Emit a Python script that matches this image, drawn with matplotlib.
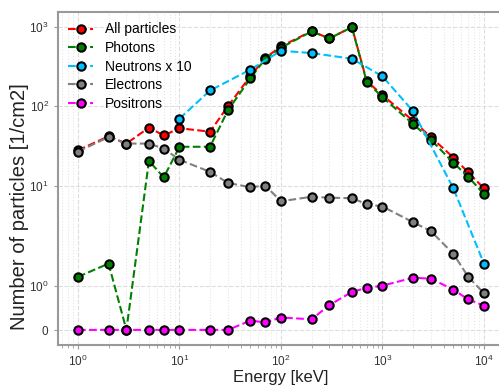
import numpy as np
import matplotlib
matplotlib.use('Agg')
import matplotlib.pyplot as plt
from matplotlib.ticker import NullLocator

plt.rcParams['font.family'] = ['Liberation Sans', 'DejaVu Sans']

energy = [1, 2, 3, 5, 7, 10, 20, 30, 50, 70, 100, 200, 300, 500, 700, 1000, 2000, 3000, 5000, 7000, 10000]

all_particles = [28, 42, 34, 54, 43, 53, 48, 100, 240, 405, 565, 880, 712, 990, 208, 138, 66, 41, 22.7, 14.8, 9.3]
photons = [1.2, 1.5, 0, 20.6, 12.8, 31, 31, 89, 225, 395, 545, 871, 712, 986, 203, 130, 60, 38, 19.5, 13.0, 7.9]
electrons = [27, 41, 34, 34, 29.4, 21.3, 15.0, 10.9, 9.6, 10.1, 6.4, 7.3, 7.1, 7.0, 5.9, 5.5, 3.5, 2.7, 1.72, 1.2, 0.83]
positrons = [0, 0, 0, 0, 0, 0, 0, 0, 0.21, 0.17, 0.28, 0.24, 0.56, 0.86, 0.95, 1.0, 1.18, 1.16, 0.91, 0.69, 0.55]

neutron_energy = [10, 20, 50, 100, 200, 500, 1000, 2000, 5000, 10000]
neutrons_x10 = [70, 158, 289, 499, 467, 396, 238, 87, 9.3, 1.5]

fig = plt.figure(figsize=(4.99, 3.88), dpi=100)
ax = fig.add_axes([0.1162, 0.111, 0.894, 0.858])

style = dict(linestyle='--', linewidth=1.5, marker='o', markersize=6,
             markeredgecolor='black', markeredgewidth=1.5)
ax.plot(energy, all_particles, color='red', label='All particles', **style)
ax.plot(energy, photons, color='green', label='Photons', **style)
ax.plot(neutron_energy, neutrons_x10, color='deepskyblue', label='Neutrons x 10', **style)
ax.plot(energy, electrons, color='gray', label='Electrons', **style)
ax.plot(energy, positrons, color='magenta', label='Positrons', **style)

ax.set_xscale('log')
ax.set_yscale('symlog', linthresh=2)
ax.set_yticks([0, 1, 10, 100, 1000])
ax.yaxis.set_minor_locator(NullLocator())
ax.set_xlim(0.635, 15800)
ax.set_ylim(-0.34, 1530)

ax.grid(True, which='major', color='#dddddd', linestyle='--', linewidth=0.8)
ax.grid(True, which='minor', axis='x', color='#e6e6e6', linestyle=':', linewidth=0.8)
ax.set_axisbelow(True)

for s in ax.spines.values():
    s.set_color('#999999')
    s.set_linewidth(1.5)
ax.tick_params(which='both', colors='#999999', labelcolor='#333333', labelsize=8.5)
ax.tick_params(which='major', length=3)
ax.tick_params(which='minor', length=2)

ax.set_xlabel('Energy [keV]', fontsize=12, color='#222222')
ax.set_ylabel('Number of particles [1/cm2]', fontsize=14.5, color='#222222')
ax.xaxis.set_label_coords(0.5, -0.075)
ax.yaxis.set_label_coords(-0.065, 0.414)

ax.legend(loc='upper left', frameon=False, fontsize=10, labelspacing=0.33,
          handlelength=1.8, borderaxespad=0.35)

fig.savefig('out.png', dpi=100)
